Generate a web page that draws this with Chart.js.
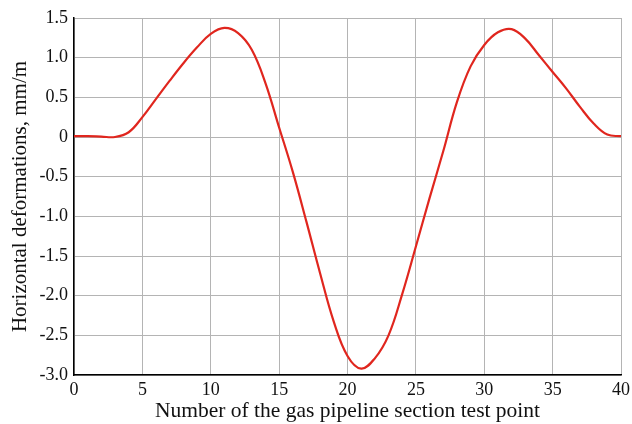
<!DOCTYPE html>
<html>
<head>
<meta charset="utf-8">
<script src="https://cdn.jsdelivr.net/npm/chart.js@4"></script>
<style>
    html, body { margin: 0; padding: 0; background: #ffffff; }
    #wrap { width: 632px; height: 424px; }
</style>
</head>
<body>
<div id="wrap"><canvas id="deformChart" width="632" height="424"></canvas></div>
<script>
// Test point numbers along the pipeline section
const testPoints = [0, 1, 2, 3, 4, 5, 6, 7, 8, 9, 10,
    11, 12, 13, 14, 15, 16, 17, 18, 19, 20,
    21, 22, 23, 24, 25, 26, 27, 28, 29, 30,
    31, 32, 33, 34, 35, 36, 37, 38, 39, 40];

// Horizontal deformations, mm/m
const deformations = [0.01, 0.01, 0.005, 0.0, 0.06, 0.25, 0.48, 0.71, 0.93, 1.13, 1.30,
    1.375, 1.31, 1.10, 0.68, 0.12, -0.44, -1.07, -1.72, -2.33, -2.76,
    -2.92, -2.79, -2.50, -1.98, -1.38, -0.77, -0.18, 0.44, 0.89, 1.16,
    1.32, 1.36, 1.24, 1.03, 0.82, 0.61, 0.38, 0.17, 0.03, 0.01];

const xTicks = [0, 5, 10, 15, 20, 25, 30, 35, 40];
const yTicks = [-3.0, -2.5, -2.0, -1.5, -1.0, -0.5, 0, 0.5, 1.0, 1.5];

const serif = "'Liberation Serif', 'Times New Roman', serif";
const gridColor = "#b4b4b4";

const points = testPoints.map((x, i) => ({ x: x, y: deformations[i] }));

const ctx = document.getElementById("deformChart").getContext("2d");
new Chart(ctx, {
    type: "line",
    data: {
        datasets: [{
            data: points,
            borderColor: "#e0261e",
            borderWidth: 2.2,
            pointRadius: 0,
            fill: false,
            tension: 0.4
        }]
    },
    options: {
        responsive: false,
        animation: false,
        layout: { padding: { top: 18, right: 11, bottom: 0, left: 0 } },
        plugins: {
            legend: { display: false },
            tooltip: { enabled: false }
        },
        scales: {
            x: {
                type: "linear",
                min: 0,
                max: 40,
                afterBuildTicks: (scale) => { scale.ticks = xTicks.map(v => ({ value: v })); },
                afterFit: (scale) => {
                    scale.height = 49;
                    scale.paddingLeft = 0;
                    scale.paddingRight = 0;
                },
                grid: { color: gridColor, lineWidth: 1, drawTicks: false },
                border: { color: "#000000", width: 1.5 },
                ticks: {
                    color: "#111111",
                    font: { family: serif, size: 18 },
                    padding: 4,
                    maxRotation: 0,
                    callback: (v) => String(v)
                },
                title: {
                    display: true,
                    text: "Number of the gas pipeline section test point",
                    color: "#111111",
                    font: { family: serif, size: 21.5 },
                    padding: { top: 0, bottom: 0 }
                }
            },
            y: {
                type: "linear",
                min: -3,
                max: 1.5,
                afterBuildTicks: (scale) => { scale.ticks = yTicks.map(v => ({ value: v })); },
                afterFit: (scale) => { scale.width = 74; },
                grid: { color: gridColor, lineWidth: 1, drawTicks: false },
                border: { color: "#000000", width: 1.5 },
                ticks: {
                    color: "#111111",
                    font: { family: serif, size: 18 },
                    padding: 6,
                    callback: (v) => (v === 0 ? "0" : v.toFixed(1))
                },
                title: {
                    display: true,
                    text: "Horizontal deformations, mm/m",
                    color: "#111111",
                    font: { family: serif, size: 21 },
                    padding: { top: 8, bottom: 0 }
                }
            }
        }
    }
});
</script>
</body>
</html>
